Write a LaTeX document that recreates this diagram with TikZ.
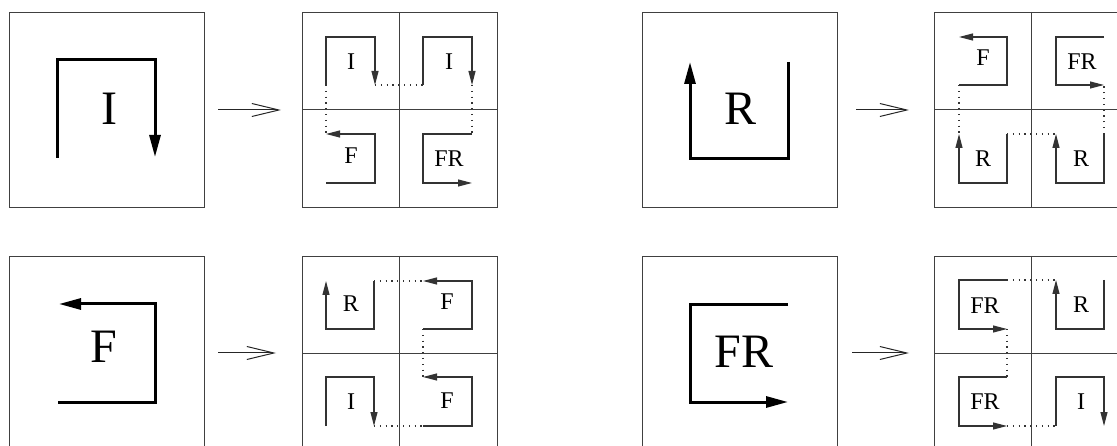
\documentclass[tikz,border=0pt]{standalone}
\usepackage{fontspec}
\setmainfont{Liberation Serif}
\usetikzlibrary{arrows.meta}
\tikzset{
  frame/.style={draw=black!75, line width=0.9pt},
  bigpath/.style={draw=black, line width=3pt, -{Triangle[length=22pt,width=11pt]}},
  smallpath/.style={draw=black!80, line width=1.1pt, -{Triangle[length=14pt,width=7pt]}},
  dotline/.style={draw=black!80, line width=1.1pt, dash pattern=on 1.2pt off 4.6pt},
  trans/.style={draw=black!85, line width=1pt, -{Straight Barb[length=27pt,width=13pt,line width=1pt]}},
  biglabel/.style={inner sep=0pt, font=\fontsize{48}{48}\selectfont},
  smalllabel/.style={inner sep=0pt, font=\fontsize{24}{24}\selectfont}
}
\begin{document}
\begin{tikzpicture}[x=1pt,y=-1pt]
\useasboundingbox (0,0) rectangle (1117,446);
\clip (0,0) rectangle (1117,446);
% ---------- frames ----------
\foreach \x in {9,302,642,934}{
  \foreach \y in {12,256}{
    \draw[frame] (\x,\y) rectangle ++(195,195.5);
  }
}
\foreach \x in {302,934}{
  \foreach \y in {12,256}{
    \draw[frame] (\x+97,\y) -- ++(0,195.5);
    \draw[frame] (\x,\y+97.5) -- ++(195,0);
  }
}
% ---------- transition arrows ----------
\coordinate (a1s) at (218,110); \coordinate (a1e) at (281,110);
\coordinate (a2s) at (856,110); \coordinate (a2e) at (909,110);
\coordinate (a3s) at (218,353); \coordinate (a3e) at (276,353);
\coordinate (a4s) at (852,353); \coordinate (a4e) at (909,353);
\draw[trans] (a1s) -- (a1e);
\draw[trans] (a2s) -- (a2e);
\draw[trans] (a3s) -- (a3e);
\draw[trans] (a4s) -- (a4e);
% ---------- I rule ----------
\draw[bigpath] (57,158) -- (57,60) -- (155,60) -- (155,157);
\node[biglabel] (LI) at (109,109) {I};
\draw[smallpath] (326,85) -- (326,37) -- (375,37) -- (375,85);
\draw[smallpath] (423,85) -- (423,37) -- (472,37) -- (472,85);
\draw[smallpath] (326,183) -- (375,183) -- (375,134) -- (326,134);
\draw[smallpath] (472,134) -- (423,134) -- (423,183) -- (472,183);
\draw[dotline] (326,85) -- (326,134);
\draw[dotline] (375,85) -- (423,85);
\draw[dotline] (472,85) -- (472,134);
\node[smalllabel] (i1) at (351,62) {I};
\node[smalllabel] (i2) at (449,62) {I};
\node[smalllabel] (i3) at (351,156) {F};
\node[smalllabel] (i4) at (449,159) {FR};
% ---------- R rule ----------
\draw[bigpath] (788,62) -- (788,159) -- (690,159) -- (690,62);
\node[biglabel] (LR) at (741,109) {R};
\draw[smallpath] (959,85) -- (1007,85) -- (1007,37) -- (959,37);
\draw[smallpath] (1104,37) -- (1056,37) -- (1056,85) -- (1104,85);
\draw[smallpath] (1007,134) -- (1007,183) -- (959,183) -- (959,134);
\draw[smallpath] (1104,134) -- (1104,183) -- (1056,183) -- (1056,134);
\draw[dotline] (959,85) -- (959,134);
\draw[dotline] (1007,134) -- (1056,134);
\draw[dotline] (1104,134) -- (1104,85);
\node[smalllabel] (r1) at (983,58) {F};
\node[smalllabel] (r2) at (1082,62) {FR};
\node[smalllabel] (r3) at (983,159) {R};
\node[smalllabel] (r4) at (1081,159) {R};
% ---------- F rule ----------
\draw[bigpath] (58,402) -- (155,402) -- (155,304) -- (59,304);
\node[biglabel] (LF) at (104,347) {F};
\draw[smallpath] (374,281) -- (374,329) -- (326,329) -- (326,281);
\draw[smallpath] (423,329) -- (472,329) -- (472,281) -- (423,281);
\draw[smallpath] (423,426) -- (472,426) -- (472,377) -- (423,377);
\draw[smallpath] (326,426) -- (326,377) -- (374,377) -- (374,426);
\draw[dotline] (374,281) -- (423,281);
\draw[dotline] (423,329) -- (423,377);
\draw[dotline] (374,426) -- (423,426);
\node[smalllabel] (f1) at (351,304) {R};
\node[smalllabel] (f2) at (447,302) {F};
\node[smalllabel] (f3) at (447,401) {F};
\node[smalllabel] (f4) at (351,402) {I};
% ---------- FR rule ----------
\draw[bigpath] (788,305) -- (690,305) -- (690,402) -- (788,402);
\node[biglabel] (LFR) at (744,352) {FR};
\draw[smallpath] (1007,280) -- (959,280) -- (959,329) -- (1007,329);
\draw[smallpath] (1104,280) -- (1104,329) -- (1056,329) -- (1056,280);
\draw[smallpath] (1007,377) -- (959,377) -- (959,426) -- (1007,426);
\draw[smallpath] (1056,426) -- (1056,377) -- (1104,377) -- (1104,426);
\draw[dotline] (1007,280) -- (1056,280);
\draw[dotline] (1007,329) -- (1007,377);
\draw[dotline] (1007,426) -- (1056,426);
\node[smalllabel] (g1) at (985,306) {FR};
\node[smalllabel] (g2) at (1081,305) {R};
\node[smalllabel] (g3) at (985,402) {FR};
\node[smalllabel] (g4) at (1081,402) {I};
\end{tikzpicture}
\end{document}
